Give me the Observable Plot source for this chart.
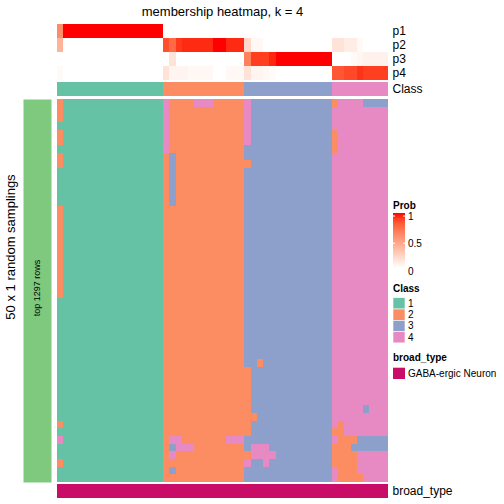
<!DOCTYPE html>
<html><head><meta charset="utf-8">
<script src="https://cdn.jsdelivr.net/npm/d3@7"></script>
<script src="https://cdn.jsdelivr.net/npm/@observablehq/plot@0.6"></script>
<style>
body{margin:0;background:#fff;}
#root{position:relative;width:504px;height:504px;font-family:"Liberation Sans",Arial,Helvetica,sans-serif;overflow:hidden;background:#fff;}
#root > svg{position:absolute;}
</style></head><body><div id="root"></div>
<script>
// ---------------- data ----------------
const title = "membership heatmap, k = 4";
const rowTitle = "50 x 1 random samplings";
const sliceLabel = "top 1297 rows";
const classNames = ["1", "2", "3", "4"];
const classColors = ["#66C2A5", "#FC8D62", "#8DA0CB", "#E78AC3"];
const probNames = ["p1", "p2", "p3", "p4"];
const broadTypes = ["GABA-ergic Neuron"];
const broadColors = ["#C90C68"];
const sliceColor = "#7FC97F";

// class of each of the 53 samples (columns)
const sampleClass = "11111111111111111 2222222222222 33333333333333 444444444";
// membership probabilities per column
const p1 = [0.6,1,1,1,1,1,1,1,1,1,1,1,1,1,1,1,1,
  0,0,0,0,0,0,0,0,0,0,0,0,0,
  0,0,0,0,0,0,0,0,0,0,0,0,0,0,
  0,0,0,0,0,0,0,0,0];
const p2 = [0.4,0,0,0,0,0,0,0,0,0,0,0,0,0,0,0,0,
  0.85,0.75,0.92,0.95,0.95,0.95,0.95,0.95,1,1,0.95,0.95,0.95,
  0.2,0.04,0.04,0,0,0,0,0,0,0,0,0,0,0,
  0.15,0.15,0.1,0.1,0.03,0,0,0,0];
const p3 = [0,0,0,0,0,0,0,0,0,0,0,0,0,0,0,0,0,
  0,0.15,0,0,0,0,0,0,0,0,0,0,0,
  0.65,0.9,0.9,0.9,0.96,1,1,1,1,1,1,1,1,1,
  0,0,0,0.03,0.05,0.07,0.07,0.07,0.07];
const p4 = [0.03,0,0,0,0,0,0,0,0,0,0,0,0,0,0,0,0,
  0.15,0.06,0.06,0.06,0.04,0.04,0.04,0.04,0,0,0.04,0.04,0.04,
  0.15,0.06,0.06,0.04,0.02,0,0,0,0,0,0,0,0,0,
  0.82,0.82,0.87,0.87,0.93,0.9,0.9,0.9,0.9];
// class assigned in each of the 50 random samplings (rows) for each column
const samplingRows = [
"21111111111111111 4222244422222 43333333333333 244443333",
"21111111111111111 4222222222222 43333333333333 444444444",
"21111111111111111 4222222222222 43333333333333 444444444",
"11111111111111111 4222222222222 43333333333333 444444444",
"21111111111111111 4222222222222 43333333333333 244444444",
"21111111111111111 4222222222222 43333333333333 244444444",
"11111111111111111 4222222222222 33333333333333 244444444",
"21111111111111111 2322222222222 33333333333333 444444444",
"21111111111111111 2322222222222 23333333333333 444444444",
"11111111111111111 2322222222222 33333333333333 444444444",
"11111111111111111 2322222222222 33333333333333 444444444",
"11111111111111111 2322222222222 33333333333333 444444444",
"11111111111111111 2322222222222 33333333333333 444444444",
"11111111111111111 2322222222222 33333333333333 444444444",
"21111111111111111 2222222222222 33333333333333 444444444",
"21111111111111111 2222222222222 33333333333333 444444444",
"21111111111111111 2222222222222 33333333333333 444444444",
"21111111111111111 2222222222222 33333333333333 444444444",
"21111111111111111 2222222222222 33333333333333 444444444",
"21111111111111111 2222222222222 33333333333333 444444444",
"21111111111111111 2222222222222 33333333333333 444444444",
"21111111111111111 2222222222222 33333333333333 444444444",
"21111111111111111 2222222222222 33333333333333 444444444",
"21111111111111111 2222222222222 33333333333333 444444444",
"21111111111111111 2222222222222 33333333333333 444444444",
"21111111111111111 2222222222222 33333333333333 444444444",
"11111111111111111 2222222222222 33333333333333 444444444",
"11111111111111111 2222222222222 33333333333333 444444444",
"11111111111111111 2222222222222 33333333333333 444444444",
"11111111111111111 2222222222222 33333333333333 444444444",
"11111111111111111 2222222222222 33333333333333 444444444",
"11111111111111111 2222222222222 33333333333333 444444444",
"11111111111111111 2222222222222 33333333333333 444444444",
"11111111111111111 2222222222222 33333333333333 444444444",
"11111111111111111 2222222222222 33233333333333 444444444",
"11111111111111111 2222222222222 23333333333333 444444444",
"11111111111111111 2222222222222 23333333333333 444444444",
"11111111111111111 2222222222222 23333333333333 444444444",
"11111111111111111 2222222222222 23333333333333 444444444",
"11111111111111111 2222222222222 23333333333333 444444444",
"11111111111111111 2222222222222 23333333333333 444443444",
"11111111111111111 2222222222222 22333333333333 444444444",
"21111111111111111 2222222222222 23333333333333 424444444",
"11111111111111111 2222222222222 23333333333333 224444444",
"41111111111111111 2442222222444 33333333333333 422233333",
"11111111111111111 2344422222222 34443333333333 222333333",
"11111111111111111 2422222222222 24444333333333 222244444",
"21111111111111111 2222222222222 43343333333333 222244444",
"11111111111111111 2322222222222 33333333333333 422244444",
"11111111111111111 2222222222222 33333333333333 422224444"
];

// ---------------- tables built from the arrays ----------------
const clean = s => s.replace(/\s+/g, "");
const colClasses = clean(sampleClass).split("");
const cols = colClasses.map((_, i) => i);
const probTable = [];
[p1, p2, p3, p4].forEach((arr, k) => arr.forEach((v, c) => probTable.push({p: probNames[k], col: c, v})));
const classTable = colClasses.map((cls, c) => ({col: c, lab: "Class", cls}));
const mainTable = [];
samplingRows.forEach((s, r) => clean(s).split("").forEach((cls, c) => mainTable.push({row: r, col: c, cls})));
const broadTable = cols.map(c => ({col: c, lab: "broad_type", t: broadTypes[0]}));

const root = document.getElementById("root");
const FONT = '"Liberation Sans", Arial, Helvetica, sans-serif';
const W = 504, ML = 57, MR = 116;
const xScale = {type: "band", domain: cols, padding: 0, round: false, axis: null};
const baseStyle = {fontFamily: FONT, fontSize: "12px", background: "transparent", overflow: "visible"};
const probColor = {type: "linear", domain: [0, 1], range: ["white", "red"], interpolate: "lab"};
const classColor = {type: "ordinal", domain: classNames, range: classColors};

function place(svg, top, left = 0) {
  svg.style.position = "absolute";
  svg.style.top = top + "px";
  svg.style.left = left + "px";
  root.appendChild(svg);
  return svg;
}

// probability annotation
place(Plot.plot({
  width: W, height: 56, marginLeft: ML, marginRight: MR, marginTop: 0, marginBottom: 0,
  style: baseStyle,
  x: xScale,
  y: {type: "band", domain: probNames, padding: 0, round: false, axis: "right", tickSize: 0, tickPadding: 4, label: null},
  color: probColor,
  marks: [Plot.cell(probTable, {x: "col", y: "p", fill: "v", inset: 0, shapeRendering: "crispEdges"})]
}), 24);

// class annotation
place(Plot.plot({
  width: W, height: 14, marginLeft: ML, marginRight: MR, marginTop: 0, marginBottom: 0,
  style: baseStyle,
  x: xScale,
  y: {type: "band", domain: ["Class"], padding: 0, round: false, axis: "right", tickSize: 0, tickPadding: 4, label: null},
  color: classColor,
  marks: [Plot.cell(classTable, {x: "col", y: "lab", fill: "cls", inset: 0, shapeRendering: "crispEdges"})]
}), 82);

// main heatmap
place(Plot.plot({
  width: W, height: 383, marginLeft: ML, marginRight: MR, marginTop: 0, marginBottom: 0,
  style: baseStyle,
  x: xScale,
  y: {type: "band", domain: samplingRows.map((_, i) => i), padding: 0, round: false, axis: null},
  color: classColor,
  marks: [Plot.cell(mainTable, {x: "col", y: "row", fill: "cls", inset: 0, shapeRendering: "crispEdges"})]
}), 99);

// broad_type annotation
place(Plot.plot({
  width: W, height: 14, marginLeft: ML, marginRight: MR, marginTop: 0, marginBottom: 0,
  style: baseStyle,
  x: xScale,
  y: {type: "band", domain: ["broad_type"], padding: 0, round: false, axis: "right", tickSize: 0, tickPadding: 4, label: null},
  color: {type: "ordinal", domain: broadTypes, range: broadColors},
  marks: [Plot.cell(broadTable, {x: "col", y: "lab", fill: "t", inset: 0, shapeRendering: "crispEdges"})]
}), 484);

// slice bar on the left
place(Plot.plot({
  width: 28, height: 383, margin: 0,
  style: {...baseStyle, fontSize: "9px"},
  marks: [
    Plot.frame({fill: sliceColor, stroke: null}),
    Plot.text([sliceLabel], {frameAnchor: "middle", rotate: -90, text: d => d, fill: "black", dy: -3})
  ]
}), 99, 23);

// overlay: title, row title and legends
const cs = Plot.scale({color: probColor});
const svg = d3.select(root).append("svg")
  .attr("width", W).attr("height", W)
  .style("position", "absolute").style("left", 0).style("top", 0)
  .style("font-family", FONT);

svg.append("text").attr("x", (ML + (W - MR)) / 2).attr("y", 15.5)
  .attr("text-anchor", "middle").attr("font-size", 13).text(title);
svg.append("text").attr("transform", "translate(14.5,247) rotate(-90)")
  .attr("text-anchor", "middle").attr("font-size", 13).text(rowTitle);

const LX = 393;
// Prob legend
svg.append("text").attr("x", LX).attr("y", 208.5).attr("font-size", 10).attr("font-weight", "bold").text("Prob");
const grad = svg.append("defs").append("linearGradient").attr("id", "pg")
  .attr("x1", 0).attr("y1", 1).attr("x2", 0).attr("y2", 0);
d3.range(0, 1.0001, 0.1).forEach(t => grad.append("stop").attr("offset", t).attr("stop-color", cs.apply(t)));
const gTop = 213, gBot = 268;
svg.append("rect").attr("x", LX).attr("y", gTop).attr("width", 12).attr("height", gBot - gTop).attr("fill", "url(#pg)");
const gy = d3.scaleLinear().domain([0, 1]).range([gBot + 3, gTop + 3.5]);
[0, 0.5, 1].forEach(t => {
  svg.append("text").attr("x", LX + 15).attr("y", gy(t) + 3.5).attr("font-size", 10).text(t);
  if (t > 0) {
    const yy = gy(t) - 0.5;
    svg.append("line").attr("x1", LX).attr("x2", LX + 2).attr("y1", yy).attr("y2", yy).attr("stroke", "white").attr("stroke-width", 1);
    svg.append("line").attr("x1", LX + 10).attr("x2", LX + 12).attr("y1", yy).attr("y2", yy).attr("stroke", "white").attr("stroke-width", 1);
  }
});

// Class legend
svg.append("text").attr("x", LX).attr("y", 292).attr("font-size", 10).attr("font-weight", "bold").text("Class");
classNames.forEach((c, i) => {
  const y0 = 297.7 + i * 11.3;
  svg.append("rect").attr("x", LX).attr("y", y0).attr("width", 12).attr("height", 11.3)
    .attr("fill", classColors[i]).attr("stroke", "white").attr("stroke-width", 0.6);
  svg.append("text").attr("x", LX + 15).attr("y", y0 + 9).attr("font-size", 10).text(c);
});

// broad_type legend
svg.append("text").attr("x", LX).attr("y", 360.5).attr("font-size", 10).attr("font-weight", "bold").text("broad_type");
broadTypes.forEach((b, i) => {
  const y0 = 367.7 + i * 11.3;
  svg.append("rect").attr("x", LX).attr("y", y0).attr("width", 12).attr("height", 11.3).attr("fill", broadColors[i]);
  svg.append("text").attr("x", LX + 15).attr("y", y0 + 9).attr("font-size", 10).text(b);
});
</script></body></html>
